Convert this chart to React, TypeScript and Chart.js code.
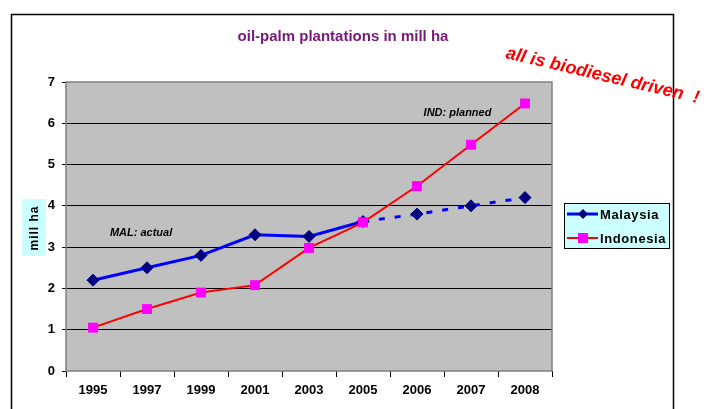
import React, { useEffect, useRef } from 'react';
import { Chart, registerables } from 'chart.js';

Chart.register(...registerables);

const years = ['1995', '1997', '1999', '2001', '2003', '2005', '2006', '2007', '2008'];
const malaysia = [2.2, 2.5, 2.8, 3.3, 3.26, 3.62, 3.8, 4.0, 4.2];
const indonesia = [1.05, 1.5, 1.9, 2.08, 2.98, 3.6, 4.48, 5.48, 6.48];
const seriesNames = ['Malaysia', 'Indonesia'];
const yMin = 0;
const yMax = 7;
const yStep = 1;
const lastActualIndex = 5;
const titleText = 'oil-palm plantations in mill ha';
const yTitleText = 'mill ha';
const sloganText = 'all is biodiesel driven  !';
const noteTexts = ['IND: planned', 'MAL: actual'];
const noteX = [6.75, 0.89];
const noteY = [6.25, 3.34];

const FONT = '"Liberation Sans", Arial, sans-serif';
const MAL_LINE = '#0000FF';
const MAL_MARK = '#000080';
const IND_LINE = '#FF0000';
const IND_MARK = '#FF00FF';

const decorPlugin = {
  id: 'decor',
  beforeDraw(chart: any) {
    const { ctx, chartArea } = chart;
    ctx.save();
    ctx.fillStyle = '#ffffff';
    ctx.fillRect(0, 0, chart.width, chart.height);
    ctx.strokeStyle = '#000000';
    ctx.lineWidth = 1.5;
    ctx.strokeRect(11.5, 14.5, 662, 430);
    ctx.fillStyle = '#C0C0C0';
    ctx.fillRect(chartArea.left, chartArea.top, chartArea.right - chartArea.left, chartArea.bottom - chartArea.top);
    ctx.restore();
  },
  beforeDatasetsDraw(chart: any) {
    const { ctx, chartArea } = chart;
    ctx.save();
    ctx.strokeStyle = '#808080';
    ctx.lineWidth = 1.5;
    ctx.strokeRect(chartArea.left, chartArea.top, chartArea.right - chartArea.left, chartArea.bottom - chartArea.top);
    ctx.restore();
  },
  afterDraw(chart: any) {
    const { ctx } = chart;
    const xs = chart.scales.x;
    const ys = chart.scales.y;
    ctx.save();
    // title
    ctx.fillStyle = '#761A78';
    ctx.font = `bold 15px ${FONT}`;
    ctx.textAlign = 'center';
    ctx.textBaseline = 'middle';
    ctx.fillText(titleText, 343, 37);

    // y axis title with cyan box
    ctx.fillStyle = '#CCFFFF';
    ctx.fillRect(22, 199, 24, 57);
    ctx.save();
    ctx.translate(35, 228);
    ctx.rotate(-Math.PI / 2);
    ctx.fillStyle = '#000000';
    ctx.font = `bold 12px ${FONT}`;
    ctx.textAlign = 'center';
    ctx.textBaseline = 'middle';
    (ctx as any).letterSpacing = '1px';
    ctx.fillText(yTitleText, 0, 0);
    ctx.restore();

    // notes
    ctx.fillStyle = '#000000';
    ctx.font = `italic bold 11px ${FONT}`;
    ctx.textAlign = 'center';
    ctx.textBaseline = 'middle';
    for (let i = 0; i < noteTexts.length; i++) {
      ctx.fillText(noteTexts[i], xs.getPixelForValue(noteX[i]), ys.getPixelForValue(noteY[i]));
    }

    // slogan
    ctx.save();
    ctx.translate(505, 58);
    ctx.rotate((13.2 * Math.PI) / 180);
    ctx.fillStyle = '#FF0000';
    ctx.font = `italic bold 18px ${FONT}`;
    ctx.textAlign = 'left';
    ctx.textBaseline = 'alphabetic';
    ctx.fillText(sloganText, 0, 0);
    ctx.restore();

    // legend
    const lx = 564, ly = 203, lw = 105, lh = 45;
    ctx.fillStyle = '#CCFFFF';
    ctx.fillRect(lx, ly, lw, lh);
    ctx.strokeStyle = '#000000';
    ctx.lineWidth = 1;
    ctx.strokeRect(lx + 0.5, ly + 0.5, lw, lh);
    const rows = [214, 238];
    for (let i = 0; i < seriesNames.length; i++) {
      const y = rows[i];
      ctx.strokeStyle = i === 0 ? MAL_LINE : IND_LINE;
      ctx.lineWidth = i === 0 ? 3 : 2;
      ctx.beginPath();
      ctx.moveTo(567, y);
      ctx.lineTo(598, y);
      ctx.stroke();
      const cx = 583;
      if (i === 0) {
        ctx.fillStyle = MAL_MARK;
        ctx.beginPath();
        ctx.moveTo(cx, y - 5);
        ctx.lineTo(cx + 5, y);
        ctx.lineTo(cx, y + 5);
        ctx.lineTo(cx - 5, y);
        ctx.closePath();
        ctx.fill();
      } else {
        ctx.fillStyle = IND_MARK;
        ctx.fillRect(cx - 5, y - 5, 10, 10);
      }
      ctx.fillStyle = '#000000';
      ctx.font = `bold 13px ${FONT}`;
      ctx.textAlign = 'left';
      ctx.textBaseline = 'middle';
      (ctx as any).letterSpacing = '0.6px';
      ctx.fillText(seriesNames[i], 600, y + 1);
      (ctx as any).letterSpacing = '0px';
    }
    ctx.restore();
  },
};

export default function App() {
  const ref = useRef<HTMLCanvasElement | null>(null);
  useEffect(() => {
    if (!ref.current) return;
    const chart = new Chart(ref.current, {
      type: 'line',
      data: {
        labels: years,
        datasets: [
          {
            label: seriesNames[0],
            data: malaysia,
            borderColor: MAL_LINE,
            borderWidth: 3,
            pointStyle: 'rectRot',
            pointRadius: 6,
            pointBackgroundColor: MAL_MARK,
            pointBorderColor: MAL_MARK,
            pointBorderWidth: 1,
            tension: 0,
            order: 1,
            segment: {
              borderDash: (c: any) => (c.p0DataIndex >= lastActualIndex ? [6, 10] : undefined),
            },
          },
          {
            label: seriesNames[1],
            data: indonesia,
            borderColor: IND_LINE,
            borderWidth: 2,
            pointStyle: 'rect',
            pointRadius: 7,
            pointBackgroundColor: IND_MARK,
            pointBorderColor: IND_MARK,
            pointBorderWidth: 0,
            tension: 0,
            order: 0,
          },
        ],
      },
      options: {
        responsive: false,
        animation: false,
        layout: { padding: { left: 0, right: 152, top: 82, bottom: 0 } },
        plugins: {
          legend: { display: false },
          title: { display: false },
          tooltip: { enabled: false },
        },
        scales: {
          x: {
            type: 'category',
            offset: true,
            border: { display: false },
            grid: {
              offset: true,
              drawOnChartArea: false,
              drawTicks: true,
              tickLength: 6,
              color: '#000000',
            },
            ticks: {
              color: '#000000',
              font: { family: FONT, size: 13, weight: 'bold' },
              padding: 6,
              maxRotation: 0,
            },
            afterFit: (s: any) => {
              s.height = 38;
            },
          },
          y: {
            min: yMin,
            max: yMax,
            border: { display: false },
            grid: {
              color: (c: any) => (c.tick && (c.tick.value === yMin || c.tick.value === yMax) ? 'rgba(0,0,0,0)' : '#000000'),
              tickColor: '#000000',
              drawTicks: true,
              tickLength: 4,
              lineWidth: 1,
            },
            ticks: {
              stepSize: yStep,
              color: '#000000',
              font: { family: FONT, size: 13, weight: 'bold' },
              padding: 7,
            },
            afterFit: (s: any) => {
              s.width = 66;
            },
          },
        },
      },
      plugins: [decorPlugin],
    } as any);
    return () => chart.destroy();
  }, []);
  return (
    <div style={{ position: 'absolute', left: 0, top: 0, width: 704, height: 409 }}>
      <canvas ref={ref} width={704} height={409} style={{ width: 704, height: 409 }} />
    </div>
  );
}
